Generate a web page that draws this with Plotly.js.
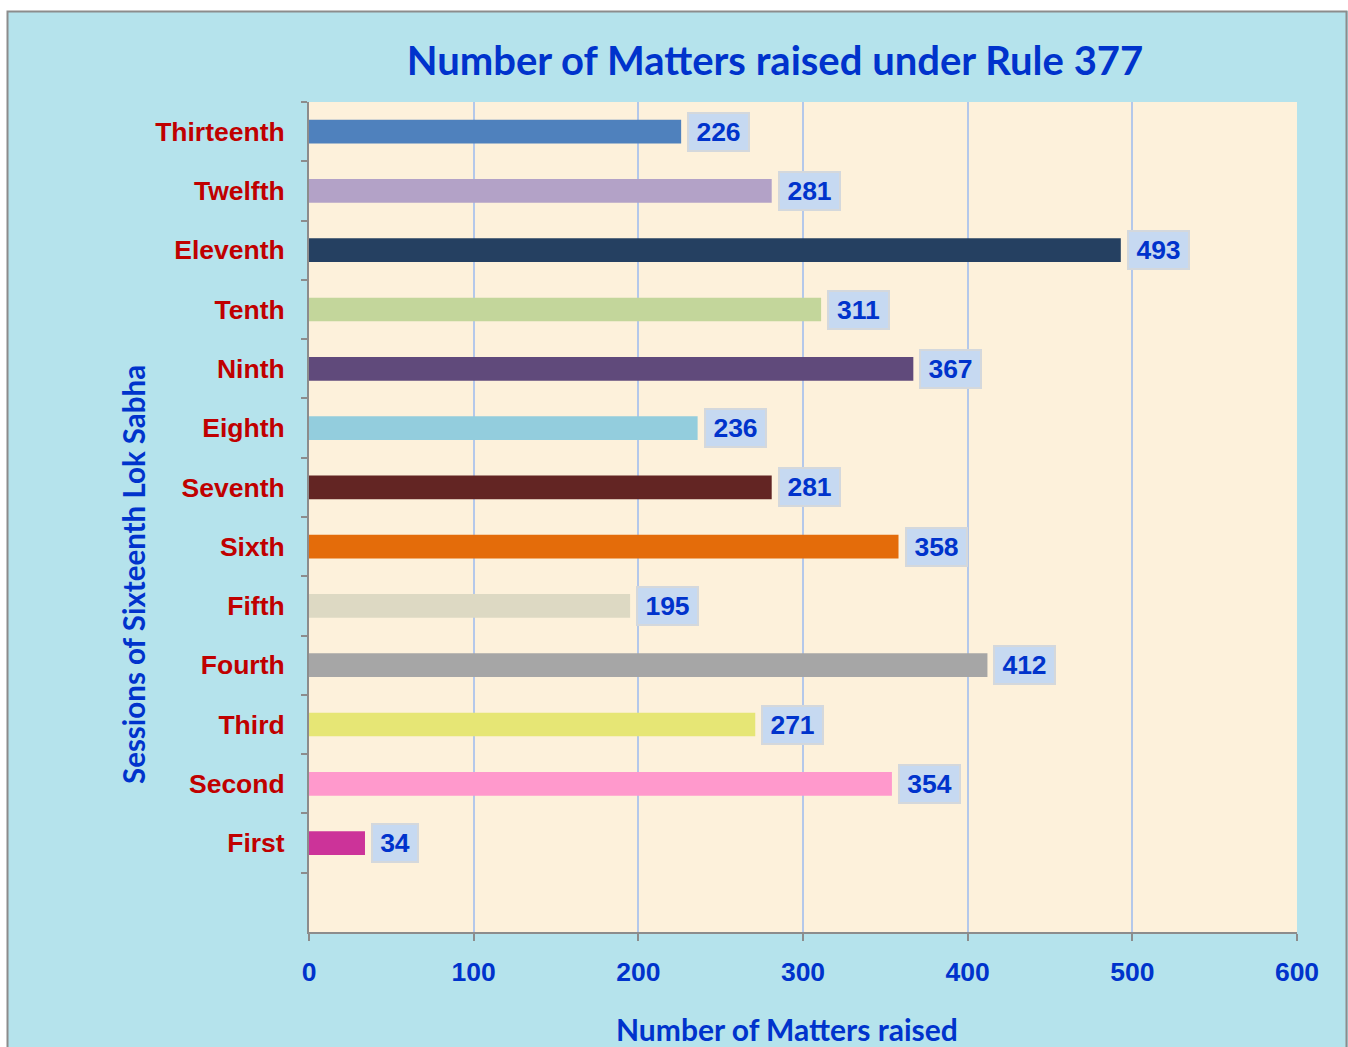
<!DOCTYPE html>
<html>
<head>
<meta charset="utf-8">
<script src="https://cdn.plot.ly/plotly-3.0.1.min.js"></script>
<style>html,body{margin:0;padding:0;background:#fff;}</style>
</head>
<body>
<div id="chart" style="width:1348px;height:1047px;"></div>
<script>
// ---- data ----
const sessions = ["First","Second","Third","Fourth","Fifth","Sixth","Seventh","Eighth","Ninth","Tenth","Eleventh","Twelfth","Thirteenth"];
const matters  = [34, 354, 271, 412, 195, 358, 281, 236, 367, 311, 493, 281, 226];
const barColors = ["#cc3399","#ff99cc","#e6e675","#a6a6a6","#ddd9c3","#e46c0a","#632523","#93cddd","#604a7b","#c3d69b","#254061","#b3a2c7","#4f81bd"];
const xTicks = [0, 100, 200, 300, 400, 500, 600];

const chartTitle = "Number of Matters raised under Rule 377";
const xTitle = "Number of Matters raised";
const yTitle = "Sessions of Sixteenth Lok Sabha";

const blue = "#0033cc";
const arialBold = {family: "Liberation Sans, Arial, sans-serif", weight: "bold"};
const calibriLike = {family: "Lato, 'Open Sans', sans-serif", weight: "bold"};

const trace = {
  type: "bar",
  orientation: "h",
  x: matters,
  y: sessions,
  width: 0.4,
  marker: {color: barColors, line: {width: 0}},
  hoverinfo: "x+y"
};

const valueLabels = sessions.map((s, i) => {
  const txt = String(matters[i]);
  return {
    x: matters[i], y: s, xref: "x", yref: "y",
    text: txt,
    showarrow: false, xanchor: "left", yanchor: "middle", xshift: 6,
    width: Math.round(txt.length * 14.7 + 5), height: 26,
    bgcolor: "#c6d9f1", bordercolor: "#d4d8dc", borderwidth: 2, borderpad: 5,
    font: Object.assign({size: 26.5, color: blue}, arialBold)
  };
});

const layout = {
  width: 1348, height: 1047, autosize: false,
  margin: {l: 309, r: 51, t: 102, b: 115, pad: 0},
  paper_bgcolor: "#b5e3ec",
  plot_bgcolor: "#fdf1db",
  showlegend: false,
  bargap: 0.6,
  title: {
    text: chartTitle,
    xref: "container", yref: "container",
    x: 775 / 1348, xanchor: "center",
    y: 1 - 61 / 1047, yanchor: "middle",
    font: Object.assign({size: 40, color: blue}, calibriLike)
  },
  xaxis: {
    range: [0, 600],
    tickvals: xTicks,
    ticktext: xTicks.map(String),
    showgrid: true, gridcolor: "#b4c8ea", gridwidth: 2,
    zeroline: false,
    showline: true, linecolor: "#8c8c8c", linewidth: 2,
    ticks: "outside", ticklen: 7, tickwidth: 2, tickcolor: "#8c8c8c",
    ticklabelstandoff: 8,
    tickfont: Object.assign({size: 26.5, color: blue}, arialBold),
    fixedrange: true
  },
  yaxis: {
    type: "category",
    categoryorder: "array", categoryarray: sessions,
    range: [-1.5, 12.5],
    tickson: "boundaries",
    showgrid: false, zeroline: false,
    showline: true, linecolor: "#8c8c8c", linewidth: 2,
    ticks: "outside", ticklen: 6, tickwidth: 2, tickcolor: "#8c8c8c",
    ticklabelstandoff: 17,
    tickfont: Object.assign({size: 26.5, color: "#c00000"}, arialBold),
    fixedrange: true
  },
  annotations: valueLabels.concat([
    {
      text: xTitle, xref: "paper", yref: "paper",
      x: (787 - 309) / 988, y: (932 - 1029) / 830,
      xanchor: "center", yanchor: "middle", showarrow: false,
      font: Object.assign({size: 30, color: blue}, calibriLike)
    },
    {
      text: yTitle, xref: "paper", yref: "paper", textangle: -90,
      x: (133 - 309) / 988, y: (932 - 575) / 830,
      xanchor: "center", yanchor: "middle", showarrow: false,
      font: Object.assign({size: 29.5, color: blue}, calibriLike)
    }
  ]),
  shapes: [
    {type: "rect", xref: "paper", yref: "paper", layer: "below",
     x0: (0 - 309) / 988, x1: (1348 - 309) / 988, y0: (932 - 11) / 830, y1: (932 - 0) / 830,
     fillcolor: "#ffffff", line: {width: 0}},
    {type: "rect", xref: "paper", yref: "paper", layer: "below",
     x0: (0 - 309) / 988, x1: (7 - 309) / 988, y0: (932 - 1047) / 830, y1: (932 - 0) / 830,
     fillcolor: "#ffffff", line: {width: 0}},
    {type: "rect", xref: "paper", yref: "paper", layer: "below",
     x0: (7.5 - 309) / 988, x1: (1346.5 - 309) / 988, y0: (932 - 1060) / 830, y1: (932 - 11.5) / 830,
     fillcolor: "rgba(0,0,0,0)", line: {color: "#8c8c8c", width: 2}}
  ]
};

Plotly.newPlot("chart", [trace], layout, {displayModeBar: false, staticPlot: true});
</script>
</body>
</html>
